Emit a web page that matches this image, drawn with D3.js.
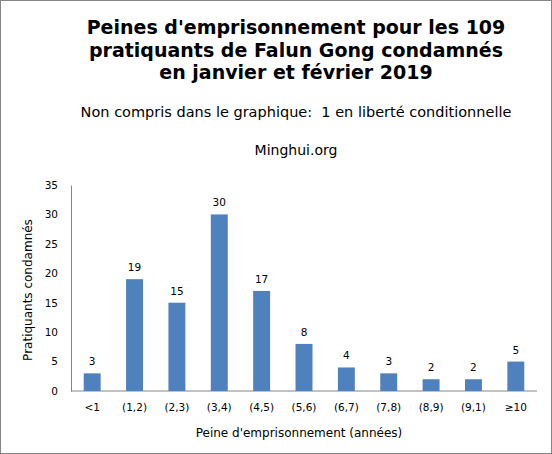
<!DOCTYPE html>
<html><head><meta charset="utf-8">
<script src="https://cdn.jsdelivr.net/npm/d3@7"></script>
<style>body{margin:0;background:#fff}svg{display:block}text{font-family:"DejaVu Sans",Verdana,sans-serif}</style>
</head><body><svg id="c" width="552" height="454"></svg>
<script>
const categories = ["<1","(1,2)","(2,3)","(3,4)","(4,5)","(5,6)","(6,7)","(7,8)","(8,9)","(9,1)","≥10"];
const values = [3,19,15,30,17,8,4,3,2,2,5];
const yTicks = [0,5,10,15,20,25,30,35];
const titleLines = ["Peines d'emprisonnement pour les 109","pratiquants de Falun Gong condamnés","en janvier et février 2019"];
const subtitle = "Non compris dans le graphique:  1 en liberté conditionnelle";
const source = "Minghui.org";
const xTitle = "Peine d'emprisonnement (années)";
const yTitle = "Pratiquants condamnés";

const svg = d3.select("#c");
svg.append("rect").attr("x",0.5).attr("y",0.5).attr("width",551).attr("height",453).attr("fill","#fff").attr("stroke","#868686");

const m = {l:71, r:537, t:185, b:391};
const x = d3.scaleBand().domain(categories).range([m.l, m.r]).paddingInner(0.6).paddingOuter(0.3);
const y = d3.scaleLinear().domain([0,35]).range([m.b, m.t]);

const cx = 296;
titleLines.forEach((t,i)=>{
  svg.append("text").attr("x",cx).attr("y",34+i*22.5).attr("text-anchor","middle")
    .attr("font-size",19).attr("font-weight","bold").attr("fill","#000").text(t);
});
svg.append("text").attr("x",cx).attr("y",117).attr("text-anchor","middle").attr("font-size",14.5).attr("xml:space","preserve").text(subtitle);
svg.append("text").attr("x",cx).attr("y",155).attr("text-anchor","middle").attr("font-size",14).text(source);

// y axis
const ya = svg.append("g").attr("transform",`translate(${m.l},0)`)
  .call(d3.axisLeft(y).tickValues(yTicks).tickSize(0).tickPadding(13));
ya.select(".domain").attr("stroke","#868686");
ya.selectAll("text").attr("font-size",10.5).attr("font-family","DejaVu Sans").attr("fill","#000");

// x axis
const xa = svg.append("g").attr("transform",`translate(0,${m.b})`)
  .call(d3.axisBottom(x).tickSize(0).tickPadding(13));
xa.select(".domain").attr("stroke","#868686").attr("d",`M${m.l},0H${m.r}`);
xa.selectAll("text").attr("font-size",10.5).attr("font-family","DejaVu Sans").attr("fill","#000");

svg.selectAll("rect.bar").data(values).join("rect").attr("class","bar")
  .attr("x",(d,i)=>x(categories[i])).attr("width",x.bandwidth())
  .attr("y",d=>y(d)).attr("height",d=>y(0)-y(d)).attr("fill","#4F81BD");

svg.selectAll("text.lbl").data(values).join("text").attr("class","lbl")
  .attr("x",(d,i)=>x(categories[i])+x.bandwidth()/2).attr("y",d=>y(d)-8)
  .attr("text-anchor","middle").attr("font-size",10.5).text(d=>d);

svg.append("text").attr("x",299).attr("y",437).attr("text-anchor","middle").attr("font-size",12).text(xTitle);
svg.append("text").attr("transform","translate(32,290) rotate(-90)").attr("text-anchor","middle").attr("font-size",12).text(yTitle);
</script></body></html>
